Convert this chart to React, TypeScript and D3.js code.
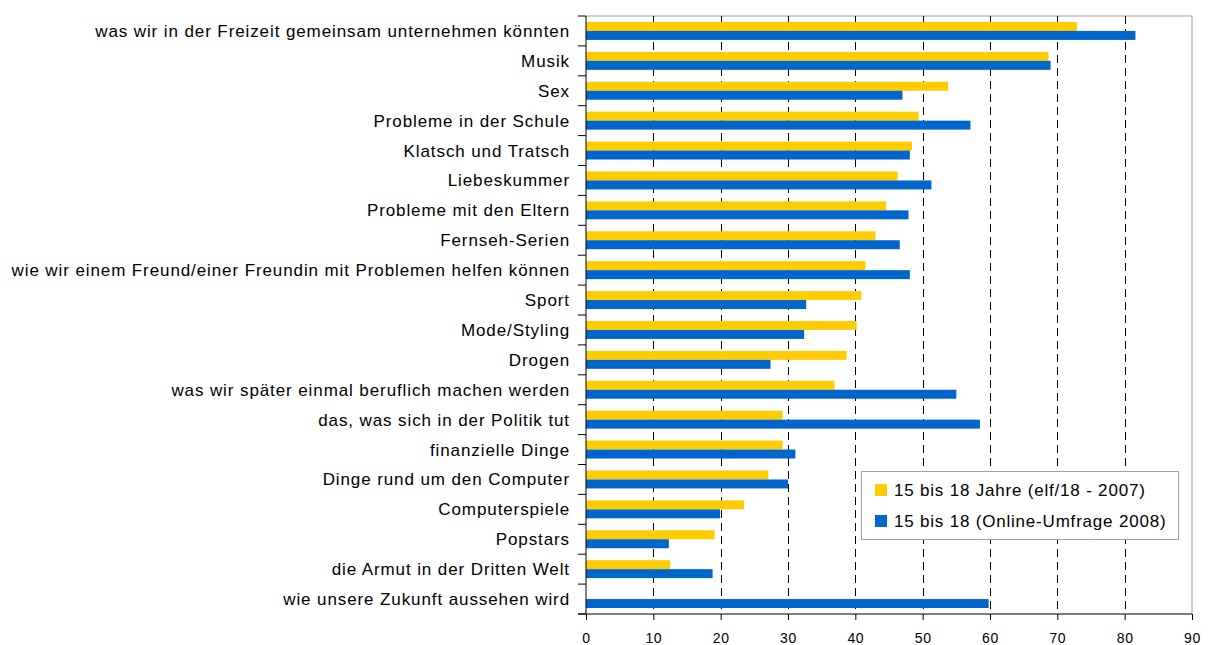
import React, { useEffect, useRef } from 'react';
import * as d3 from 'd3';

const categories = [
  'was wir in der Freizeit gemeinsam unternehmen könnten',
  'Musik',
  'Sex',
  'Probleme in der Schule',
  'Klatsch und Tratsch',
  'Liebeskummer',
  'Probleme mit den Eltern',
  'Fernseh-Serien',
  'wie wir einem Freund/einer Freundin mit Problemen helfen können',
  'Sport',
  'Mode/Styling',
  'Drogen',
  'was wir später einmal beruflich machen werden',
  'das, was sich in der Politik tut',
  'finanzielle Dinge',
  'Dinge rund um den Computer',
  'Computerspiele',
  'Popstars',
  'die Armut in der Dritten Welt',
  'wie unsere Zukunft aussehen wird',
];

const values2007 = [72.9, 68.7, 53.8, 49.4, 48.4, 46.3, 44.6, 43.0, 41.5, 40.9, 40.2, 38.7, 36.9, 29.2, 29.2, 27.1, 23.5, 19.1, 12.5, 0];
const values2008 = [81.6, 69.0, 47.0, 57.1, 48.1, 51.3, 47.9, 46.6, 48.1, 32.7, 32.4, 27.4, 55.0, 58.5, 31.1, 30.0, 19.9, 12.3, 18.8, 59.8];

const seriesNames = ['15 bis 18 Jahre (elf/18 - 2007)', '15 bis 18 (Online-Umfrage 2008)'];
const seriesColors = ['#FFCC00', '#0066CC'];
const xTicks = [0, 10, 20, 30, 40, 50, 60, 70, 80, 90];

export default function App() {
  const ref = useRef<SVGSVGElement>(null);

  useEffect(() => {
    const width = 1208;
    const height = 645;
    const margin = { top: 16, left: 586, bottom: 31, right: 16 };

    const svg = d3.select(ref.current);
    svg.selectAll('*').remove();
    svg.attr('width', width).attr('height', height);

    const x = d3.scaleLinear().domain([0, 90]).range([margin.left, width - margin.right]);
    const y = d3
      .scaleBand()
      .domain(categories)
      .range([margin.top, height - margin.bottom])
      .paddingInner(0.4)
      .paddingOuter(0.2);
    const step = y.step();
    const bandH = y.bandwidth() / 2;
    const bottom = height - margin.bottom;

    const font = 'Liberation Sans, Arial, sans-serif';

    // plot frame (top / right in grey)
    svg.append('line')
      .attr('x1', x(0)).attr('x2', x(90))
      .attr('y1', margin.top).attr('y2', margin.top)
      .attr('stroke', '#a0a0a0');
    svg.append('line')
      .attr('x1', x(90)).attr('x2', x(90))
      .attr('y1', margin.top).attr('y2', bottom)
      .attr('stroke', '#a0a0a0');

    // dashed grid
    svg.append('g')
      .selectAll('line')
      .data(xTicks.slice(1, -1))
      .join('line')
      .attr('x1', (d) => Math.round(x(d)) + 0.5)
      .attr('x2', (d) => Math.round(x(d)) + 0.5)
      .attr('y1', margin.top)
      .attr('y2', bottom)
      .attr('stroke', '#000')
      .attr('stroke-dasharray', '8,5');

    // bars
    const data = categories.map((c, i) => ({ c, a: values2007[i], b: values2008[i] }));
    const g = svg.append('g');
    g.selectAll('rect.a')
      .data(data)
      .join('rect')
      .attr('class', 'a')
      .attr('x', x(0))
      .attr('y', (d) => y(d.c)!)
      .attr('width', (d) => x(d.a) - x(0))
      .attr('height', bandH)
      .attr('fill', seriesColors[0]);
    g.selectAll('rect.b')
      .data(data)
      .join('rect')
      .attr('class', 'b')
      .attr('x', x(0))
      .attr('y', (d) => y(d.c)! + bandH)
      .attr('width', (d) => x(d.b) - x(0))
      .attr('height', bandH)
      .attr('fill', seriesColors[1]);

    // x axis
    const xAxis = svg.append('g')
      .attr('transform', `translate(0,${bottom})`)
      .call(d3.axisBottom(x).tickValues(xTicks).tickSize(6).tickSizeOuter(0));
    xAxis.select('.domain').remove();
    xAxis.append('line')
      .attr('x1', x(0) - 8).attr('x2', x(90))
      .attr('stroke', '#000');
    xAxis.selectAll('.tick line').attr('stroke', '#000');
    xAxis.selectAll('text')
      .attr('font-family', font)
      .attr('font-size', 14)
      .attr('letter-spacing', 0.6)
      .attr('fill', '#000')
      .attr('y', 29)
      .attr('dy', 0);

    // y axis
    const yAxis = svg.append('g').attr('transform', `translate(${x(0)},0)`);
    yAxis.append('line')
      .attr('x1', 0).attr('x2', 0)
      .attr('y1', margin.top).attr('y2', bottom)
      .attr('stroke', '#000');
    yAxis.selectAll('line.tick')
      .data(d3.range(categories.length + 1))
      .join('line')
      .attr('class', 'tick')
      .attr('x1', -8).attr('x2', 0)
      .attr('y1', (i) => margin.top + i * step)
      .attr('y2', (i) => margin.top + i * step)
      .attr('stroke', '#000');
    yAxis.selectAll('text')
      .data(categories)
      .join('text')
      .attr('x', -16)
      .attr('y', (d) => y(d)! + y.bandwidth() / 2)
      .attr('dy', '0.35em')
      .attr('text-anchor', 'end')
      .attr('font-family', font)
      .attr('font-size', 17)
      .attr('letter-spacing', 0.9)
      .attr('fill', '#000')
      .text((d) => d);

    // legend
    const legend = svg.append('g').attr('transform', 'translate(861,471)');
    legend.append('rect')
      .attr('x', 0.5).attr('y', 0.5)
      .attr('width', 317).attr('height', 68)
      .attr('fill', '#fff')
      .attr('stroke', '#a0a0a0');
    seriesNames.forEach((name, i) => {
      legend.append('rect')
        .attr('x', 14).attr('y', 13 + i * 31)
        .attr('width', 12).attr('height', 12)
        .attr('fill', seriesColors[i]);
      legend.append('text')
        .attr('x', 33).attr('y', 25 + i * 31)
        .attr('font-family', font)
        .attr('font-size', 17)
        .attr('letter-spacing', 0.8)
        .attr('fill', '#000')
        .text(name);
    });
  }, []);

  return (
    <div style={{ position: 'absolute', left: 0, top: 0 }}>
      <svg ref={ref}></svg>
    </div>
  );
}
